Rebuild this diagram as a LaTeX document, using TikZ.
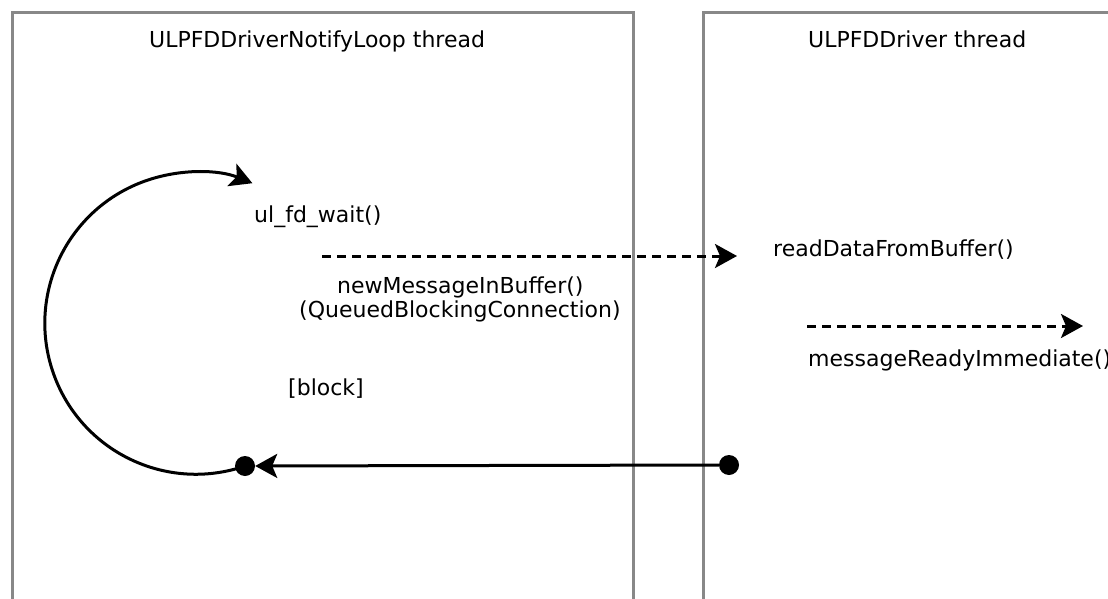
\documentclass[tikz,border=0pt]{standalone}
\usepackage{fontspec}
\setmainfont{DejaVu Sans}
\usetikzlibrary{arrows.meta}
\definecolor{lanegray}{HTML}{888888}
\begin{document}
\begin{tikzpicture}[x=1pt,y=-1pt,
  lane/.style={draw=lanegray, line width=3pt},
  label/.style={font=\fontsize{22}{26}\selectfont, inner sep=0pt},
  flow/.style={line width=3pt, -{Stealth[length=22pt,width=24pt,inset=5pt]}},
  signal/.style={flow, dash pattern=on 9pt off 6pt},
  dot/.style={circle, fill=black, minimum size=20pt, inner sep=0pt}]
\useasboundingbox (0,0) rectangle (1108,599);

% thread lanes, open at the bottom
\draw[lane] (12,620) -- (12,13) -- (633,13) -- (633,620);
\draw[lane] (703,620) -- (703,13) -- (1130,13);

% lane titles
\node[label, anchor=base west] (notifytitle) at (149,48) {ULPFDDriverNotifyLoop thread};
\node[label, anchor=base west] (drivertitle) at (808,48) {ULPFDDriver thread};

% notify loop side
\node[label, anchor=base west] (waitcall) at (254,222) {ul\_fd\_wait()};
\node[label, anchor=base west] (msgname) at (337,293) {newMessageInBuffer()};
\node[label, anchor=base west] (msgkind) at (299,317) {(QueuedBlockingConnection)};
\node[label, anchor=base west] (blocknote) at (288,395) {[block]};

% driver side
\node[label, anchor=base west] (readcall) at (773,256) {readDataFromBuffer()};
\node[label, anchor=base west] (readycall) at (808,366) {messageReadyImmediate()};

% queued signal to the driver thread
\coordinate (notifyfrom) at (322,256);
\coordinate (notifyto) at (737,256);
\draw[signal] (notifyfrom) -- (notifyto);

% immediate signal
\coordinate (readyfrom) at (807,326);
\coordinate (readyto) at (1083,326);
\draw[signal] (readyfrom) -- (readyto);

% return from the driver thread, unblocking the loop
\node[dot] (wake) at (245,466) {};
\node[dot] (emit) at (729,465) {};
\draw[flow] (emit) -- (wake);

% loop back to waiting
\draw[flow] (wake.center) arc[start angle=71, end angle=292, radius=151];
\end{tikzpicture}
\end{document}
